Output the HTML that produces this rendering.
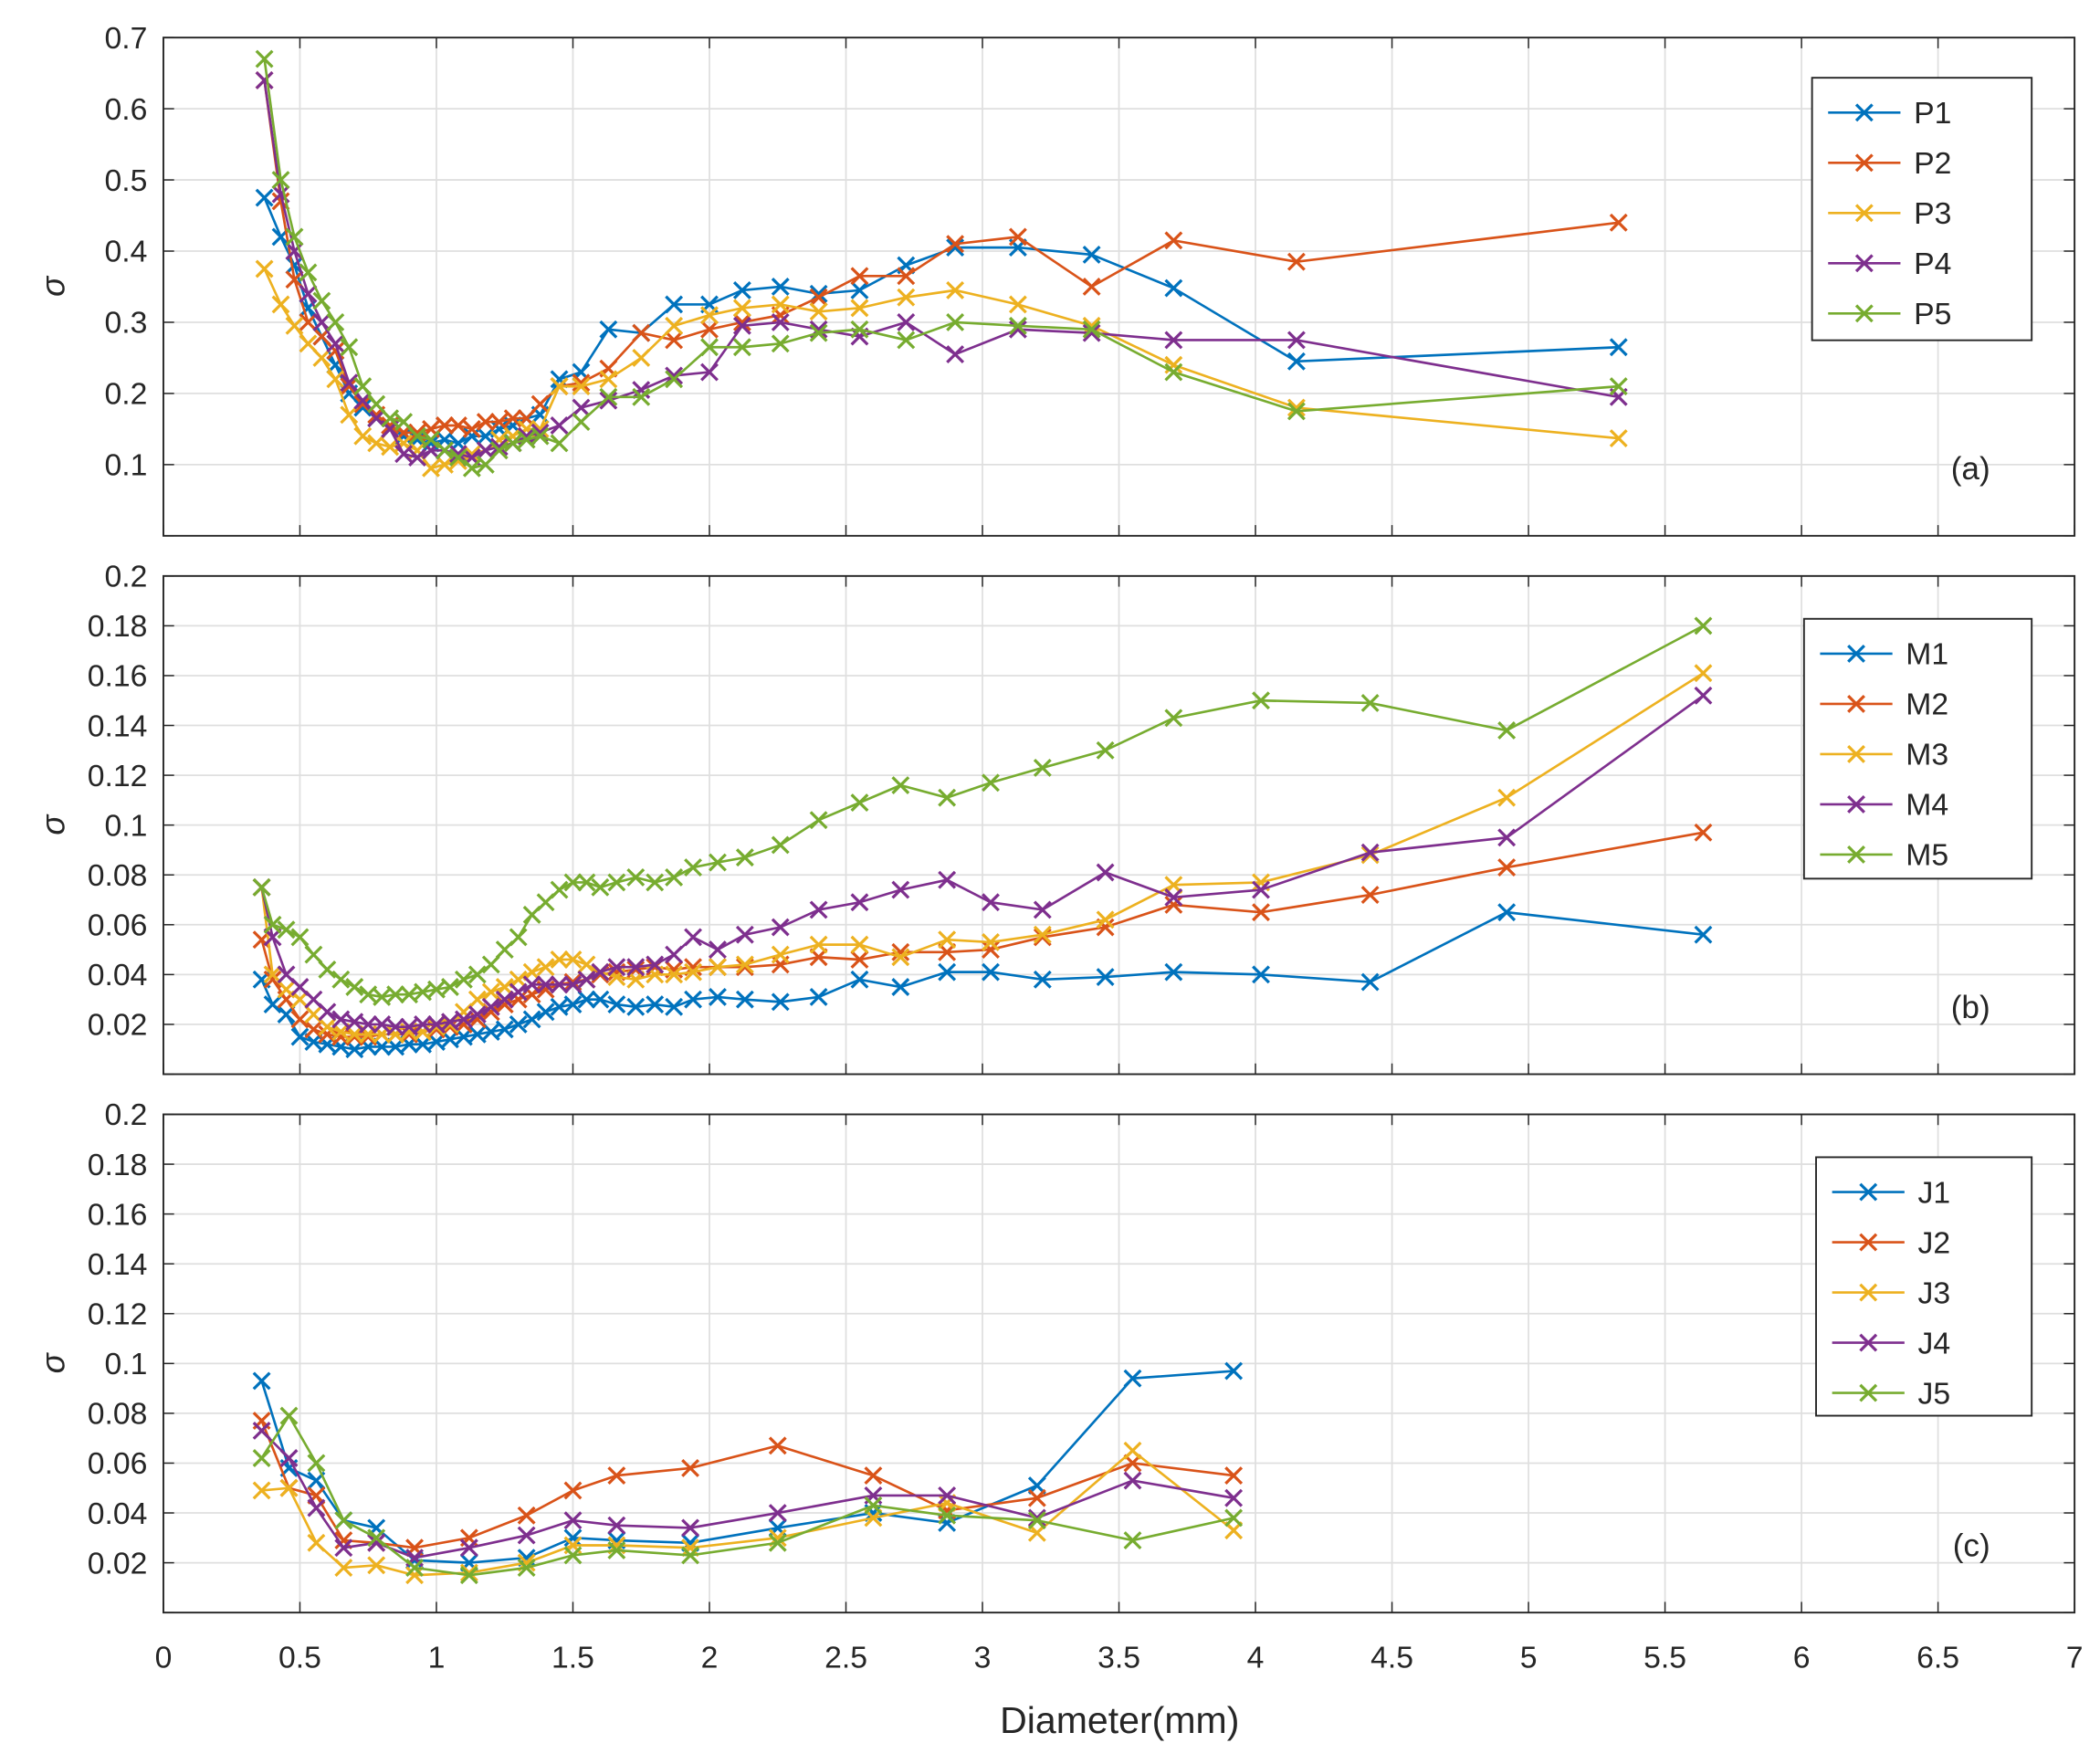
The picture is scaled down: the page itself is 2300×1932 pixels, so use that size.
<!DOCTYPE html>
<html><head><meta charset="utf-8"><style>
html,body{margin:0;padding:0;background:#fff}
svg{display:block}
text{font-family:"Liberation Sans",Arial,sans-serif;fill:#262626}
</style></head><body>
<svg id="s" width="2300" height="1932" viewBox="0 0 1568 1317" xmlns="http://www.w3.org/2000/svg"></svg>
<script>
const C=["#0072BD","#D95319","#EDB120","#7E2F8E","#77AC30"];
const X0=122,X1=1549;const xs=v=>X0+v*(X1-X0)/7;
let h='';
function panel(top,bot,ymax,step,fmt,series,xv,leg,tag,lbox){
  const ys=v=>bot-v*(bot-top)/ymax;
  // grid
  for(let i=0;i<=14;i++){const x=xs(i*0.5);h+=`<line x1="${x}" y1="${top}" x2="${x}" y2="${bot}" stroke="#dfdfdf" stroke-width="1.2"/>`;}
  for(let v=0;v<=ymax+1e-9;v+=step){const y=ys(v);h+=`<line x1="${X0}" y1="${y}" x2="${X1}" y2="${y}" stroke="#dfdfdf" stroke-width="1.2"/>`;
    if(v>1e-9)h+=`<text x="110" y="${y+8}" font-size="23" text-anchor="end">${fmt(v)}</text>`;
    h+=`<line x1="${X0}" y1="${y}" x2="${X0+8}" y2="${y}" stroke="#262626"/><line x1="${X1}" y1="${y}" x2="${X1-8}" y2="${y}" stroke="#262626"/>`;}
  for(let i=0;i<=14;i++){const x=xs(i*0.5);h+=`<line x1="${x}" y1="${bot}" x2="${x}" y2="${bot-8}" stroke="#262626"/><line x1="${x}" y1="${top}" x2="${x}" y2="${top+8}" stroke="#262626"/>`;}
  series.forEach((s,k)=>{const xx=Array.isArray(xv[0])?xv[k]:xv;
    const pts=s.map((v,i)=>[xs(xx[i]),ys(v)]);
    h+=`<polyline fill="none" stroke="${C[k]}" stroke-width="1.8" points="${pts.map(p=>p.join(',')).join(' ')}"/>`;
    pts.forEach(p=>{h+=`<path d="M${p[0]-6},${p[1]-6}L${p[0]+6},${p[1]+6}M${p[0]-6},${p[1]+6}L${p[0]+6},${p[1]-6}" stroke="${C[k]}" stroke-width="2.2"/>`;});
  });
  h+=`<rect x="${X0}" y="${top}" width="${X1-X0}" height="${bot-top}" fill="none" stroke="#262626" stroke-width="1.3"/>`;
  h+=`<text x="40" y="${(top+bot)/2+8}" font-size="25" font-style="italic" transform="rotate(-90 40 ${(top+bot)/2})" text-anchor="middle" font-family="Liberation Serif">σ</text>`;
  h+=`<text x="1486" y="${bot-42}" font-size="24" text-anchor="end">${tag}</text>`;
  const [lx,ly,lw,lh]=lbox;
  h+=`<rect x="${lx}" y="${ly}" width="${lw}" height="${lh}" fill="#fff" stroke="#262626" stroke-width="1.3"/>`;
  leg.forEach((n,k)=>{const y=ly+26+k*37.5;
    h+=`<line x1="${lx+12}" y1="${y}" x2="${lx+66}" y2="${y}" stroke="${C[k]}" stroke-width="1.8"/>`;
    const c=lx+39;h+=`<path d="M${c-6},${y-6}L${c+6},${y+6}M${c-6},${y+6}L${c+6},${y-6}" stroke="${C[k]}" stroke-width="2.2"/>`;
    h+=`<text x="${lx+76}" y="${y+8}" font-size="23">${n}</text>`;});
}
const xa=[0.37,0.43,0.48,0.53,0.58,0.63,0.68,0.73,0.78,0.83,0.88,0.93,0.98,1.03,1.08,1.13,1.18,1.23,1.28,1.33,1.38,1.45,1.53,1.63,1.75,1.87,2.0,2.12,2.26,2.4,2.55,2.72,2.9,3.13,3.4,3.7,4.15,5.33];
const A=[
[.475,.42,.38,.32,.28,.24,.2,.18,.165,.15,.14,.135,.13,.135,.13,.14,.14,.15,.155,.165,.17,.22,.23,.29,.285,.325,.325,.345,.35,.34,.345,.38,.405,.405,.395,.348,.245,.265],
[.64,.47,.36,.3,.28,.26,.21,.185,.17,.155,.145,.145,.15,.155,.155,.15,.16,.16,.165,.165,.185,.21,.215,.235,.285,.275,.29,.3,.31,.335,.365,.365,.41,.42,.35,.415,.385,.44],
[.375,.325,.295,.27,.25,.22,.17,.14,.13,.125,.13,.12,.095,.1,.105,.115,.12,.135,.14,.15,.15,.21,.21,.22,.25,.295,.31,.32,.325,.315,.32,.335,.345,.325,.295,.24,.18,.137],
[.64,.48,.4,.34,.3,.27,.215,.19,.165,.15,.115,.11,.12,.12,.115,.11,.12,.125,.13,.14,.145,.155,.18,.19,.205,.225,.23,.295,.3,.29,.28,.3,.255,.29,.285,.275,.275,.195],
[.67,.5,.42,.37,.33,.3,.265,.21,.185,.165,.16,.14,.135,.12,.11,.095,.1,.12,.13,.135,.14,.13,.16,.195,.195,.22,.265,.265,.27,.285,.29,.275,.3,.295,.29,.23,.175,.21]];
const xb=[0.36,0.4,0.45,0.5,0.55,0.6,0.65,0.7,0.75,0.8,0.85,0.9,0.95,1.0,1.05,1.1,1.15,1.2,1.25,1.3,1.35,1.4,1.45,1.5,1.55,1.6,1.66,1.73,1.8,1.87,1.94,2.03,2.13,2.26,2.4,2.55,2.7,2.87,3.03,3.22,3.45,3.7,4.02,4.42,4.92,5.64];
const B=[
[.038,.028,.024,.015,.013,.012,.011,.01,.011,.011,.011,.012,.012,.013,.014,.015,.016,.017,.018,.02,.022,.025,.027,.028,.03,.03,.028,.027,.028,.027,.03,.031,.03,.029,.031,.038,.035,.041,.041,.038,.039,.041,.04,.037,.065,.056],
[.054,.038,.03,.022,.018,.016,.015,.015,.015,.016,.016,.016,.017,.018,.019,.02,.022,.025,.028,.03,.032,.034,.036,.037,.038,.04,.041,.042,.043,.042,.043,.043,.043,.044,.047,.046,.049,.049,.05,.055,.059,.068,.065,.072,.083,.097],
[.075,.04,.034,.03,.024,.019,.017,.016,.016,.016,.016,.017,.017,.019,.02,.025,.03,.033,.035,.038,.041,.043,.046,.046,.044,.041,.039,.038,.04,.04,.041,.043,.044,.048,.052,.052,.047,.054,.053,.056,.062,.076,.077,.088,.111,.161],
[.075,.055,.04,.035,.03,.025,.022,.021,.02,.02,.019,.019,.02,.02,.021,.022,.024,.027,.03,.033,.036,.036,.036,.036,.038,.041,.043,.043,.044,.048,.055,.05,.056,.059,.066,.069,.074,.078,.069,.066,.081,.071,.074,.089,.095,.152],
[.075,.06,.058,.055,.048,.042,.038,.035,.032,.031,.032,.032,.033,.034,.035,.038,.04,.044,.05,.055,.064,.069,.074,.077,.077,.075,.077,.079,.077,.079,.083,.085,.087,.092,.102,.109,.116,.111,.117,.123,.13,.143,.15,.149,.138,.18]];
const xc=[0.36,0.46,0.56,0.66,0.78,0.92,1.12,1.33,1.5,1.66,1.93,2.25,2.6,2.87,3.2,3.55,3.92];
const Cc=[
[.093,.058,.053,.037,.034,.021,.02,.022,.03,.029,.028,.034,.04,.036,.051,.094,.097],
[.077,.05,.047,.029,.028,.026,.03,.039,.049,.055,.058,.067,.055,.041,.046,.06,.055],
[.049,.05,.028,.018,.019,.015,.016,.02,.027,.027,.026,.03,.038,.044,.032,.065,.033],
[.073,.062,.042,.026,.028,.022,.026,.031,.037,.035,.034,.04,.047,.047,.038,.053,.046],
[.062,.079,.06,.037,.03,.018,.015,.018,.023,.025,.023,.028,.043,.039,.037,.029,.038]];
const f1=v=>(+v.toFixed(1)).toString(), f2=v=>(+v.toFixed(2)).toString();
panel(28,400,0.7,0.1,f1,A,xa,["P1","P2","P3","P4","P5"],"(a)",[1353,58,164,196]);
panel(430,802,0.2,0.02,f2,B,xb,["M1","M2","M3","M4","M5"],"(b)",[1347,462,170,194]);
panel(832,1204,0.2,0.02,f2,Cc,xc,["J1","J2","J3","J4","J5"],"(c)",[1356,864,161,193]);
for(let i=0;i<=14;i++){const v=i*0.5;h+=`<text x="${xs(v)}" y="1245" font-size="23" text-anchor="middle">${v}</text>`;}
h+=`<text x="836" y="1294" font-size="28" text-anchor="middle">Diameter(mm)</text>`;
document.getElementById('s').innerHTML=h;
</script>
</body></html>
